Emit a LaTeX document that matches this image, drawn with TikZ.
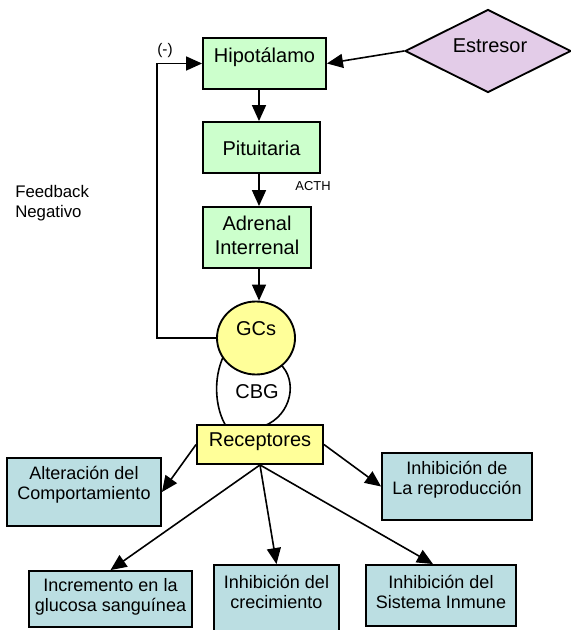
\documentclass[tikz,border=0pt]{standalone}
\usepackage{fontspec}
\setmainfont{Liberation Sans}
\usetikzlibrary{shapes.geometric,arrows.meta,fit,calc}
\definecolor{boxgreen}{HTML}{CCFFCC}
\definecolor{boxpurple}{HTML}{E3CCE8}
\definecolor{boxyellow}{HTML}{FFFF99}
\definecolor{boxteal}{HTML}{BBDEE2}
\begin{document}
\begin{tikzpicture}[x=0.75pt,y=-0.75pt,
  box/.style={draw, line width=1.4pt, inner sep=0pt},
  big/.style={font=\fontsize{15}{18}\selectfont, align=center, inner sep=0pt},
  small/.style={font=\fontsize{13.5}{15}\selectfont, align=center, inner sep=0pt},
  arr/.style={line width=1.2pt, -{Triangle[length=12pt,width=10.5pt]}}]
\useasboundingbox (0,0) rectangle (570,630);

% top chain
\node[box, fill=boxgreen, fit={(203,38)(326,89)}] (hipo) {};
\node[big] (hipoT) at (264.5,57) {Hipotálamo};
\node[draw, diamond, line width=1.4pt, fill=boxpurple, minimum width=124.5pt, minimum height=62.25pt, inner sep=0pt] (est) at (488,51) {};
\node[big] (estT) at (490,46) {Estresor};
\node[box, fill=boxgreen, fit={(203,122)(320,173)}] (pit) {};
\node[big] (pitT) at (261.5,148) {Pituitaria};
\node[font=\fontsize{9.7}{11}\selectfont, inner sep=0pt] (acth) at (313,186) {ACTH};
\node[box, fill=boxgreen, fit={(203,207)(311,268)}] (adr) {};
\node[big] (adrT) at (257,235) {Adrenal\\Interrenal};

% CBG blob
\draw[line width=1.2pt, fill=white] (224,355) .. controls (212,380) and (216,410) .. (226,426) -- (264,426) .. controls (292,415) and (298,380) .. (280,364);
\node[big] (cbgT) at (257,392) {CBG};

\node[draw, ellipse, line width=1.4pt, fill=boxyellow, minimum width=58.5pt, minimum height=54.75pt, inner sep=0pt] (gcs) at (256,338) {};
\node[big] (gcsT) at (256,329) {GCs};
\node[box, fill=boxyellow, fit={(197,425)(323,464)}] (rec) {};
\node[big] (recT) at (260,442) {Receptores};

% effects
\node[box, fill=boxteal, fit={(7,458)(161,526)}] (alt) {};
\node[small] (altT) at (84,485) {Alteración del\\Comportamiento};
\node[box, fill=boxteal, fit={(382,453)(532,520)}] (rep) {};
\node[small] (repT) at (457,480) {Inhibición de\\La reproducción};
\node[box, fill=boxteal, fit={(29,571)(192,627)}] (inc) {};
\node[small] (incT) at (110.5,597) {Incremento en la\\glucosa sanguínea};
\node[box, fill=boxteal, fit={(214,565)(339,634)}] (cre) {};
\node[small] (creT) at (276.5,592) {Inhibición del\\crecimiento};
\node[box, fill=boxteal, fit={(366,565)(516,626)}] (sis) {};
\node[small] (sisT) at (441,592) {Inhibición del\\Sistema Inmune};

% labels
\node[font=\fontsize{11.5}{13}\selectfont, inner sep=0pt] (neg) at (165,51) {(-)};
\node[font=\fontsize{12.6}{15}\selectfont, align=left, anchor=west, inner sep=0pt] (fbT) at (15,203) {Feedback\\Negativo};

% connectors
\coordinate (ax) at (259,0);
\coordinate (fb) at (157,200);
\draw[arr] (est.west) -- (hipo.east);
\draw[arr] (hipo.south -| ax) -- (pit.north -| ax);
\draw[arr] (pit.south -| ax) -- (adr.north -| ax);
\draw[arr] (adr.south -| ax) -- (gcs.north -| ax);
\draw[arr] (gcs.west) -| (fb) |- (hipo.west);
\draw[arr] (rec.west) -- (alt.east);
\draw[arr] (rec.east) -- (rep.west);
\draw[arr] (rec.south) -- (inc.north);
\draw[arr] (rec.south) -- (cre.north);
\draw[arr] (rec.south) -- ($(sis.north)+(-8,0)$);
\end{tikzpicture}
\end{document}
